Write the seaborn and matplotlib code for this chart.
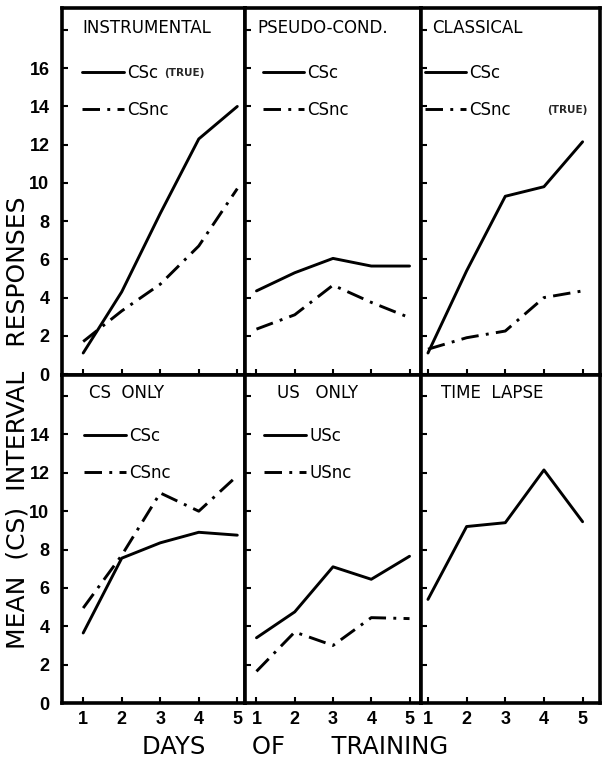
import pandas as pd
import matplotlib.pyplot as plt
import seaborn as sns

days = [1, 2, 3, 4, 5]

# ust sira
instr_csc = [1.1, 4.3, 8.4, 12.3, 14.0]
instr_csnc = [1.7, 3.3, 4.7, 6.7, 9.7]
pseudo_csc = [4.35, 5.3, 6.05, 5.65, 5.65]
pseudo_csnc = [2.35, 3.1, 4.65, 3.75, 2.95]
class_csc = [1.1, 5.4, 9.3, 9.8, 12.15]
class_csnc = [1.3, 1.9, 2.25, 4.0, 4.35]

# alt sira
csonly_csc = [3.65, 7.55, 8.35, 8.9, 8.75]
csonly_csnc = [4.95, 7.7, 10.95, 10.0, 11.85]
usonly_usc = [3.4, 4.75, 7.1, 6.45, 7.65]
usonly_usnc = [1.65, 3.7, 3.0, 4.45, 4.4]
timelapse = [5.4, 9.2, 9.4, 12.15, 9.45]

titles = ["INSTRUMENTAL", "PSEUDO-COND.", "CLASSICAL", "CS  ONLY", "US   ONLY", "TIME  LAPSE"]
top_yticks = [0, 2, 4, 6, 8, 10, 12, 14, 16, 18]
top_ylabels = ["0", "2", "4", "6", "8", "10", "12", "14", "16", ""]
bot_yticks = [0, 2, 4, 6, 8, 10, 12, 14, 16]
bot_ylabels = ["0", "2", "4", "6", "8", "10", "12", "14", ""]

panels = [
    {"series": {"CSc": instr_csc, "CSnc": instr_csnc}, "true": "CSc"},
    {"series": {"CSc": pseudo_csc, "CSnc": pseudo_csnc}, "true": None},
    {"series": {"CSc": class_csc, "CSnc": class_csnc}, "true": "CSnc"},
    {"series": {"CSc": csonly_csc, "CSnc": csonly_csnc}, "true": None},
    {"series": {"USc": usonly_usc, "USnc": usonly_usnc}, "true": None},
    {"series": {"TL": timelapse}, "true": None},
]

sns.set_style("white")
plt.rcParams["font.family"] = ["DejaVu Sans"]

fig = plt.figure(figsize=(6.1, 7.59), dpi=100)
gs = fig.add_gridspec(2, 3, left=62 / 610, right=600 / 610, top=1 - 8 / 759,
                      bottom=1 - 703 / 759, height_ratios=[367, 328],
                      width_ratios=[183, 176, 179], wspace=0, hspace=0)

xlims = [(0.45, 5.2), (0.7, 5.3), (0.82, 5.45)]
title_x = [0.11, 0.07, 0.06, 0.15, 0.18, 0.11]
leg_x = [0.11, 0.10, 0.02, 0.12, 0.11, 0.0]
leg_y = [0.848, 0.848, 0.848, 0.842, 0.842, 0.842]
true_gap = [6, 0, 36, 0, 0, 0]   # px

for i, p in enumerate(panels):
    r, c = divmod(i, 3)
    ax = fig.add_subplot(gs[r, c])
    rows = []
    for name, vals in p["series"].items():
        for d, v in zip(days, vals):
            rows.append({"day": d, "value": v, "series": name})
    df = pd.DataFrame(rows)
    names = list(p["series"].keys())
    dash_map = {names[0]: ""}
    if len(names) > 1:
        dash_map[names[1]] = (6, 2.5, 1, 2.5)
    sns.lineplot(data=df, x="day", y="value", style="series", dashes=dash_map,
                 style_order=names, color="black", linewidth=2.1, legend=False, ax=ax)

    ax.set_xlim(*xlims[c])
    if r == 0:
        ax.set_ylim(-0.05, 19.15)
        ax.set_yticks(top_yticks)
        ax.set_yticklabels(top_ylabels if c == 0 else [])
    else:
        ax.set_ylim(0, 17.1)
        ax.set_yticks(bot_yticks)
        ax.set_yticklabels(bot_ylabels if c == 0 else [])
    ax.set_xticks(days)
    if r == 1:
        ax.set_xticklabels([str(d) for d in days])
    else:
        ax.set_xticklabels([])
    ax.set_xlabel("")
    ax.set_ylabel("")
    ax.tick_params(axis="both", direction="in", length=4, width=1.5, color="black",
                   labelsize=13, labelcolor="black", pad=6, left=True, bottom=True,
                   right=False, top=False)
    ax.tick_params(axis="y", pad=9)
    for lab in ax.get_yticklabels() + ax.get_xticklabels():
        lab.set_fontweight("bold")
        lab.set_family("Liberation Sans")
    for s in ax.spines.values():
        s.set_linewidth(2.6)
        s.set_color("black")

    ax.text(title_x[i], 0.945, titles[i], transform=ax.transAxes, fontsize=12,
            ha="left", va="center", color="black")

    if len(names) > 1:
        leg = ax.legend(ax.lines[:2], names, loc="upper left",
                        bbox_to_anchor=(leg_x[i], leg_y[i]), frameon=False,
                        fontsize=12, handlelength=2.5, handletextpad=0.2,
                        labelspacing=1.15, borderpad=0, borderaxespad=0)
        for t in leg.get_texts():
            t.set_color("black")
        if p["true"] is not None:
            k = names.index(p["true"])
            fig.canvas.draw()
            bb = leg.get_texts()[k].get_window_extent()
            inv = ax.transAxes.inverted()
            (x0, y0), (x1, y1) = inv.transform([(bb.x0, bb.y0), (bb.x1 + true_gap[i], bb.y1)])
            ax.text(x1, (y0 + y1) / 2, "(TRUE)", transform=ax.transAxes,
                    fontsize=7.5, fontweight="bold", ha="left", va="center")

fig.text(18 / 610, 1 - 423 / 759, "MEAN  (CS)  INTERVAL   RESPONSES", rotation=90,
         fontsize=18, ha="center", va="center", color="black")
fig.text(295 / 610, 1 - 747 / 759, "DAYS      OF      TRAINING", fontsize=17.5,
         ha="center", va="center", color="black")

plt.savefig("out.png", dpi=100)
